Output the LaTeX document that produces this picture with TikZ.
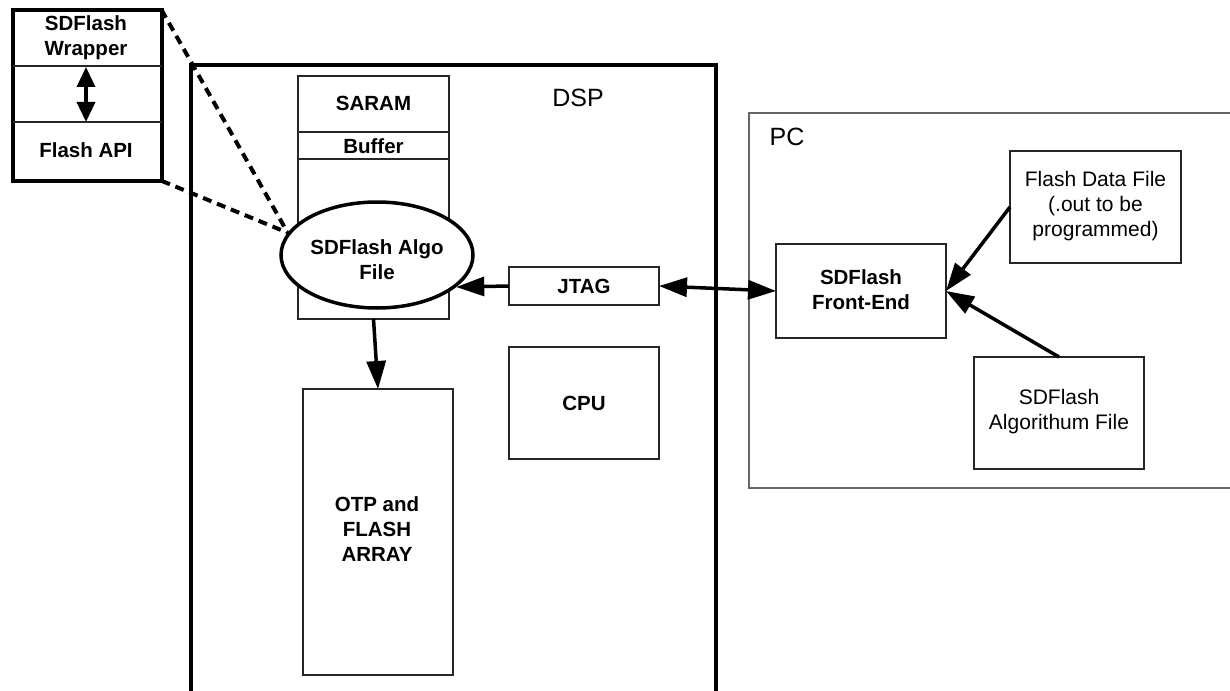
\documentclass[tikz,border=0pt]{standalone}
\usepackage{fontspec}
\setmainfont{Liberation Sans}
\usetikzlibrary{arrows.meta,shapes.geometric}
\begin{document}
\begin{tikzpicture}[x=1pt,y=-1pt,
  thinbox/.style={draw=black!85, line width=1.2pt, inner sep=0pt, outer sep=0pt},
  frame/.style={draw=black, line width=4pt, line join=miter},
  pcline/.style={draw=black!60, line width=1.5pt},
  bt/.style={font=\fontsize{20.5}{25}\selectfont\bfseries, align=center, inner sep=0pt},
  rt/.style={font=\fontsize{21}{25}\selectfont, align=center, inner sep=0pt},
  big/.style={font=\fontsize{25}{30}\selectfont, inner sep=0pt},
  arr/.style={line width=3.5pt, -{Triangle[length=28pt,width=19pt]}},
  darr/.style={line width=3.5pt, {Triangle[length=28pt,width=19pt]}-{Triangle[length=28pt,width=19pt]}},
  smallarr/.style={line width=3.5pt, {Triangle[length=20pt,width=18pt]}-{Triangle[length=20pt,width=18pt]}},
  dashline/.style={line width=4pt, dash pattern=on 9pt off 6pt}
]
\useasboundingbox (0,0) rectangle (1230,690);

% DSP frame (open at bottom)
\draw[frame] (190.5,692) -- (190.5,65) -- (715.5,65) -- (715.5,692);
\node[big] (dsplbl) at (578,98) {DSP};

% PC frame (open at right)
\draw[pcline] (1234,113) -- (749,113) -- (749,488) -- (1234,488);
\node[big] (pclbl) at (787,137) {PC};

% SARAM column
\node[thinbox, minimum width=151pt, minimum height=243pt] (saram) at (373.5,197.5) {};
\coordinate (b1l) at (298,132); \coordinate (b1r) at (449,132);
\coordinate (b2l) at (298,159); \coordinate (b2r) at (449,159);
\draw[draw=black!85, line width=1.2pt] (b1l) -- (b1r);
\draw[draw=black!85, line width=1.2pt] (b2l) -- (b2r);
\node[bt] (saramtxt) at (373.5,103) {SARAM};
\node[bt] (buftxt) at (373.5,146) {Buffer};

% Ellipse
\node[ellipse, draw, fill=white, line width=3.5pt, minimum width=192pt, minimum height=106pt, inner sep=0pt] (algo) at (377,255) {};
\node[bt] (algotxt) at (377,260) {SDFlash Algo\\File};

% OTP
\node[thinbox, minimum width=150pt, minimum height=286pt] (otp) at (378,532) {};
\node[bt] (otptxt) at (377,529) {OTP and\\FLASH\\ARRAY};

% JTAG, CPU
\node[thinbox, minimum width=150pt, minimum height=38pt, font=\fontsize{20.5}{25}\selectfont\bfseries] (jtag) at (584,286) {JTAG};
\node[thinbox, minimum width=150pt, minimum height=112pt] (cpu) at (584,403) {};
\node[bt] (cputxt) at (584,403) {CPU};

% PC side
\node[thinbox, minimum width=170pt, minimum height=94pt] (fe) at (861,291) {};
\node[bt] (fetxt) at (861,290) {SDFlash\\Front-End};
\node[thinbox, minimum width=171pt, minimum height=112pt] (dfile) at (1095.5,207) {};
\node[rt] (dfiletxt) at (1095.5,206) {Flash Data File\\(.out to be\\programmed)};
\node[thinbox, minimum width=170pt, minimum height=112pt] (afile) at (1059,413) {};
\node[rt] (afiletxt) at (1059,412) {SDFlash\\Algorithum File};

% Wrapper zoom box
\node[draw, line width=4pt, line join=miter, inner sep=0pt, outer sep=0pt, minimum width=149pt, minimum height=171pt] (wrap) at (87,95.3) {};
\coordinate (w1l) at (12.5,66); \coordinate (w1r) at (161.5,66);
\coordinate (w2l) at (12.5,122); \coordinate (w2r) at (161.5,122);
\draw[draw=black!85, line width=1.2pt] (w1l) -- (w1r);
\draw[draw=black!85, line width=1.2pt] (w2l) -- (w2r);
\node[bt] (wraptxt) at (86,38) {SDFlash\\Wrapper};
\node[bt] (apitxt) at (86,150) {Flash API};
\coordinate (wa1) at (86,67); \coordinate (wa2) at (86,122);
\draw[smallarr] (wa1) -- (wa2);

% dashed zoom lines
\draw[dashline] (wrap.north east) -- (algo.166);
\draw[dashline] (wrap.south east) -- (algo.166);

% connectors
\draw[arr] (saram.south) -- (otp.north);
\draw[arr] (jtag.west) -- (algo.-22);
\draw[darr] (jtag.east) -- (fe.west);
\draw[arr] (dfile.west) -- (fe.east);
\draw[arr] (afile.north) -- (fe.east);
\end{tikzpicture}
\end{document}
